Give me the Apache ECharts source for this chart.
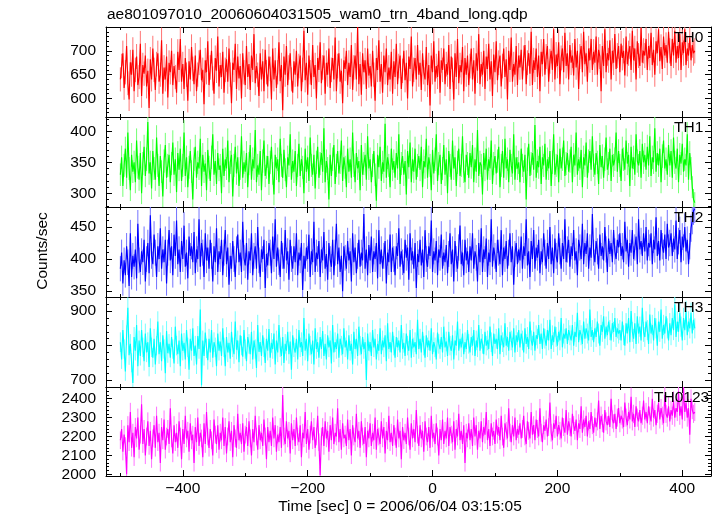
<!DOCTYPE html>
<html>
<head>
<meta charset="utf-8">
<script src="https://cdn.jsdelivr.net/npm/echarts@6/dist/echarts.min.js"></script>
<style>html,body{margin:0;padding:0;background:#fff}#c{width:717px;height:516px}</style>
</head>
<body>
<div id="c"></div>
<script>
// ---- data (2 s bins starting at -500 s) ----
const tStart = -500;
const binSec = 2;
const th0 = [
640,668,695,622,655,710,632,598,676,650,702,615,660,688,628,645,715,605,670,652,
690,625,658,580,682,640,705,660,618,672,695,635,650,722,610,665,640,688,602,675,
655,700,628,668,645,612,698,660,725,635,672,620,685,650,595,678,640,708,662,630,
690,615,650,675,702,638,660,588,680,655,720,628,665,700,642,610,685,658,730,625,
670,645,698,612,660,682,635,705,650,590,675,660,715,620,688,642,668,600,695,655,
628,710,645,672,618,690,660,735,632,668,650,605,695,640,678,615,702,655,625,688,
662,598,705,640,680,622,655,718,636,670,575,688,650,710,628,665,695,640,612,678,
650,700,625,668,690,615,660,742,638,675,608,690,655,628,712,645,670,600,685,660,
718,632,665,690,610,675,650,705,622,660,685,640,728,615,668,695,635,658,590,680,
662,700,628,675,645,712,618,665,690,640,750,630,672,608,695,655,680,620,705,648,
668,625,700,650,595,685,660,722,635,672,612,690,655,705,628,665,640,698,610,678,
645,715,630,668,690,620,658,700,638,675,600,688,662,730,625,660,685,640,712,650,
675,618,695,655,640,708,628,670,585,690,655,720,635,668,645,700,612,680,660,705,
630,672,650,712,620,688,660,598,695,645,725,632,670,655,708,615,685,650,690,628,
668,705,640,680,610,695,658,735,630,672,650,700,620,688,662,715,640,678,605,692,
655,720,638,675,690,625,668,705,645,682,598,700,660,728,635,672,650,710,628,690,
665,702,640,685,712,630,675,695,652,740,628,680,660,705,645,690,615,698,672,725,
650,688,710,635,678,700,660,745,640,692,668,718,630,685,705,655,738,668,695,640,
712,675,690,648,725,665,700,620,688,710,655,740,672,695,635,705,680,725,660,698,
675,730,650,702,688,615,710,668,745,655,695,680,722,640,700,675,735,662,690,710,
655,715,685,700,648,730,672,695,710,660,742,680,705,640,720,690,668,748,675,700,
690,725,660,710,685,738,670,702,650,720,695,745,678,708,662,730,690,712,675,740,
700,668,725,690,742,675,710,685,735,660,718,695,745,670,705,690,728,680,712,695,
700];
const th1 = [
330,358,312,345,372,325,398,340,305,362,335,350,318,385,342,322,365,300,348,375,
328,355,415,332,350,308,368,340,322,390,345,312,360,335,295,352,378,325,345,362,
318,348,382,330,355,302,365,338,372,320,345,398,328,358,310,342,368,335,290,355,
375,325,350,340,388,312,362,335,348,305,370,342,320,358,395,330,352,315,365,338,
345,300,372,328,355,340,385,318,350,362,295,345,375,332,358,312,340,392,325,350,
335,365,310,348,378,322,355,340,402,318,345,330,368,305,352,385,328,342,360,315,
350,375,332,298,362,340,355,318,388,345,325,370,338,310,358,345,395,322,352,335,
368,312,345,380,328,355,342,300,372,335,358,320,390,345,330,362,308,350,375,325,
348,365,335,405,318,352,340,290,362,328,355,378,315,345,368,332,350,385,320,358,
342,310,372,335,355,325,398,345,318,365,340,352,305,378,330,348,362,322,392,340,
355,318,345,368,330,288,362,342,375,320,350,335,412,325,358,345,310,372,338,352,
325,365,340,395,315,348,360,330,352,298,368,342,382,318,355,335,372,322,345,360,
338,375,310,352,342,388,325,358,345,305,370,332,355,395,320,348,362,315,340,378,
330,355,300,368,345,322,385,340,358,312,350,372,328,345,392,335,318,362,348,325,
365,342,378,318,355,335,402,328,350,345,298,365,338,372,322,355,340,385,315,348,
360,332,352,375,310,345,368,325,388,340,355,318,370,345,332,395,322,358,340,350,
318,372,345,335,362,290,355,380,328,348,365,338,410,325,352,342,375,315,358,345,
380,322,355,340,368,312,350,395,330,345,362,318,372,340,355,385,328,348,365,335,
352,375,318,362,345,398,330,355,340,370,310,358,345,382,325,352,368,338,392,345,
330,365,350,315,378,342,360,325,355,390,338,348,372,320,362,345,355,398,335,368,
345,320,372,355,338,385,348,362,312,375,340,358,330,395,352,345,368,325,380,350,
362,338,375,345,392,328,358,350,405,335,365,345,372,318,360,385,340,355,330,378,
345,368,325,390,350,340,372,318,362,348,380,335,355,345,395,322,365,340,310,290,
285];
const th2 = [
385,410,362,398,375,420,395,358,440,372,405,388,415,370,455,398,380,412,395,430,
365,400,425,378,468,405,392,438,410,372,420,400,448,385,415,395,430,362,410,445,
398,420,375,438,405,460,392,415,380,428,400,452,388,410,370,435,405,420,395,442,
378,415,400,462,388,425,410,372,440,398,418,385,430,405,365,420,395,448,380,412,
400,430,375,410,445,392,418,360,405,385,428,400,372,415,438,395,410,380,458,402,
390,425,368,412,398,440,375,405,420,385,450,398,372,415,400,430,355,408,390,425,
410,378,435,400,462,388,418,395,372,428,405,385,445,398,412,368,430,400,385,420,
395,440,375,410,398,425,352,405,385,418,400,438,372,412,395,458,380,410,400,428,
372,415,398,442,385,408,368,425,400,388,430,375,410,455,392,418,380,405,350,420,
402,385,428,398,412,365,440,395,418,378,405,430,388,410,398,470,385,415,375,422,
398,435,380,412,400,425,370,445,392,415,385,405,428,362,410,395,438,380,418,400,
375,420,405,448,388,412,395,378,430,402,418,368,440,398,412,385,425,355,408,395,
430,390,415,372,445,400,388,420,405,460,380,412,398,428,375,415,402,438,385,410,
395,422,378,408,440,392,415,365,428,400,385,418,452,392,410,375,430,398,412,380,
420,398,440,385,412,402,365,425,395,448,380,415,400,432,372,410,395,462,388,418,
405,380,430,410,392,445,375,418,400,428,385,410,440,395,420,360,408,425,392,415,
398,435,385,420,405,462,390,412,372,428,400,445,385,418,402,430,378,412,395,440,
410,385,425,400,450,392,418,378,432,405,395,440,412,385,425,400,462,395,415,430,
388,420,405,445,398,412,375,430,418,400,455,392,425,408,440,385,418,402,470,410,
395,428,412,385,438,405,420,398,450,415,380,432,408,425,395,445,412,400,430,418,
440,405,420,395,458,412,430,388,425,410,445,400,418,435,392,462,415,428,405,440,
412,450,398,425,418,440,392,430,415,465,405,428,398,445,420,410,438,400,455,418,
425,440,405,432,415,460,400,428,445,395,435,418,450,412,430,392,420,448,460,475,
478];
const th3 = [
810,760,845,790,725,830,910,772,805,750,692,825,785,860,740,815,770,845,795,755,
835,780,810,738,850,795,765,820,745,800,870,775,810,755,830,790,720,842,778,805,
765,825,790,748,855,800,775,815,740,835,785,808,760,845,795,730,820,785,850,770,
800,745,828,790,905,685,815,770,838,792,758,820,780,845,765,810,795,740,835,785,
812,770,850,795,740,825,780,808,762,840,795,775,870,788,815,752,830,800,768,845,
790,755,825,805,775,840,760,815,790,735,860,782,810,770,830,795,750,820,785,848,
765,808,790,835,745,815,780,860,795,770,825,750,805,785,840,775,812,730,830,795,
780,820,760,845,795,810,770,880,785,820,755,835,800,775,815,745,850,790,810,765,
825,790,842,770,805,760,830,795,815,748,860,780,810,790,835,765,820,800,775,850,
795,815,760,830,785,805,745,840,790,820,770,855,800,775,825,790,810,700,835,785,
810,770,845,795,820,760,805,785,850,775,815,795,830,755,865,790,810,780,840,800,
765,825,795,815,780,860,790,808,770,835,800,785,845,765,820,795,810,775,875,790,
820,780,840,800,765,830,795,815,785,850,775,810,795,760,838,805,790,825,780,855,
795,812,770,840,800,785,830,760,815,800,870,785,820,795,835,775,810,790,845,805,
780,825,800,845,770,815,795,860,785,820,805,775,840,800,815,790,855,810,770,835,
805,820,790,850,775,830,810,795,865,800,825,785,840,815,795,850,780,830,810,845,
795,835,815,780,850,805,825,790,870,815,800,840,785,830,820,860,805,835,790,850,
820,800,845,815,875,790,830,810,855,825,800,840,815,880,795,835,820,850,805,845,
830,815,860,800,840,825,895,810,845,830,805,870,820,850,835,815,905,825,845,810,
850,825,870,835,800,860,840,885,820,855,830,870,845,815,865,840,880,825,850,835,
845,815,870,830,800,865,835,880,810,900,840,820,865,805,885,835,855,815,910,840,
825,870,845,805,890,835,860,815,880,850,800,870,840,905,820,860,835,885,850,815,
865,830,880,845,920,825,870,840,895,855,815,880,845,900,830,870,850,895,835,875,
850];
const th0123 = [
2180,2240,2120,2210,2150,2000,2260,2170,2330,2140,2220,2090,2250,2190,2300,2130,2210,2370,2160,2240,
2100,2200,2280,2150,2230,2080,2190,2260,2140,2310,2170,2220,2060,2250,2180,2290,2130,2200,2240,2160,
2350,2190,2110,2260,2170,2220,2140,2280,2200,2080,2240,2160,2310,2190,2230,2120,2270,2180,2210,2060,
2250,2170,2300,2150,2220,2190,2090,2270,2160,2330,2200,2140,2240,2180,2100,2290,2210,2160,2260,2130,
2220,2180,2300,2150,2250,2110,2200,2280,2170,2230,2090,2260,2190,2140,2320,2180,2220,2160,2270,2120,
2210,2250,2150,2280,2190,2100,2240,2170,2310,2200,2130,2260,2180,2220,2150,2290,2200,2080,2250,2170,
2230,2150,2300,2190,2260,2120,2210,2170,2250,2140,2420,2200,2160,2280,2190,2230,2110,2270,2180,2240,
2150,2300,2200,2170,2260,2090,2220,2190,2330,2160,2240,2130,2210,2280,2180,2250,2140,2200,2310,2170,
1995,2200,2250,2150,2280,2190,2230,2120,2260,2180,2300,2160,2220,2200,2350,2170,2240,2130,2270,2190,
2210,2150,2290,2180,2240,2100,2260,2200,2170,2320,2190,2230,2140,2280,2200,2160,2250,2090,2230,2190,
2270,2150,2220,2180,2300,2130,2240,2200,2160,2280,2190,2250,2110,2230,2180,2310,2170,2220,2150,2260,
2200,2140,2290,2190,2230,2080,2250,2180,2220,2160,2300,2200,2130,2270,2190,2240,2170,2340,2210,2150,
2260,2190,2230,2120,2280,2200,2170,2250,2140,2310,2190,2220,2160,2270,2200,2100,2240,2180,2290,2160,
2230,2190,2300,2150,2250,2210,2170,2280,2130,2240,2200,2320,2180,2230,2160,2260,2060,2220,2190,2270,
2180,2240,2150,2300,2200,2260,2130,2230,2190,2280,2170,2250,2210,2330,2180,2240,2150,2270,2200,2230,
2160,2290,2210,2250,2180,2310,2200,2140,2270,2230,2190,2350,2220,2170,2260,2200,2300,2180,2240,2210,
2270,2190,2240,2310,2200,2160,2280,2230,2190,2330,2210,2260,2180,2290,2240,2200,2350,2220,2170,2260,
2230,2290,2200,2250,2380,2220,2180,2270,2240,2310,2200,2260,2230,2190,2300,2250,2220,2340,2210,2280,
2250,2200,2320,2260,2230,2290,2180,2270,2240,2360,2220,2290,2250,2310,2200,2280,2240,2330,2260,2220,
2300,2250,2280,2390,2240,2310,2270,2220,2340,2280,2260,2310,2250,2400,2290,2270,2320,2240,2300,2350,
2270,2310,2290,2250,2380,2300,2260,2330,2290,2410,2280,2320,2250,2360,2300,2280,2340,2270,2310,2390,
2290,2330,2270,2360,2310,2280,2400,2300,2340,2260,2320,2380,2290,2350,2310,2270,2420,2320,2300,2360,
2280,2340,2310,2390,2300,2350,2330,2440,2310,2360,2290,2460,2330,2380,2300,2350,2210,2400,2340,2320,
2330];

const panelNames = ['TH0','TH1','TH2','TH3','TH0123'];
const panelColors = ['#ff0000','#00ff00','#0000ff','#00ffff','#ff00ff'];
const errColors = ['#ff7373','#73ff73','#7373ff','#73ffff','#ff73ff'];
const xLabelTicks = [-400,-200,0,200,400];
const xMinorTicks = [-500,-300,-100,100,300];
const yLabelTicks = [[600,650,700],[300,350,400],[350,400,450],[700,800,900],[2000,2100,2200,2300,2400]];
const yMinorStep = [10,10,10,20,20];
const yRanges = [[561,750],[278,423],[341,481],[680,941],[1991,2462]];
const xRange = [-523,446];
const titleText = 'ae801097010_20060604031505_wam0_trn_4band_long.qdp';
const xTitle = 'Time [sec] 0 = 2006/06/04 03:15:05';
const yTitle = 'Counts/sec';

const seriesVals = [th0, th1, th2, th3, th0123];
const times = th0.map((_, i) => tStart + i * binSec);

const FONT = 'Liberation Sans, Arial, Helvetica, sans-serif';
const FS = 15.5;
const gridTop = 27, gridH = 90, gridLeft = 106, gridRight = 6;

const grids = [], xAxes = [], yAxes = [], series = [];
function minorY(k) {
  const out = [];
  const s = yMinorStep[k];
  for (let v = Math.ceil(yRanges[k][0] / s) * s; v <= yRanges[k][1]; v += s) {
    if (!yLabelTicks[k].includes(v)) out.push(v);
  }
  return out;
}
function fmtNum(v) { return v < 0 ? '\u2212' + Math.abs(v) : String(v); }

for (let k = 0; k < 5; k++) {
  grids.push({left: gridLeft, right: gridRight, top: gridTop + gridH * k, height: k === 4 ? 89 : gridH, containLabel: false, outerBoundsMode: 'none'});
  const last = k === 4;
  const xDefs = [
    ['bottom', xLabelTicks, 6, true, last],
    ['bottom', xMinorTicks, 3, false, false],
    ['top', xLabelTicks, 6, true, false],
    ['top', xMinorTicks, 3, false, false]
  ];
  xDefs.forEach(d => {
    xAxes.push({
      type: 'value', gridIndex: k, position: d[0], min: xRange[0], max: xRange[1],
      axisLine: {show: d[3], onZero: false, lineStyle: {color: '#000', width: 1}},
      axisTick: {show: true, inside: true, length: d[2], customValues: d[1], lineStyle: {color: '#000', width: 1}},
      axisLabel: d[4] ? {show: true, customValues: xLabelTicks, formatter: fmtNum, color: '#000', fontSize: FS, fontFamily: FONT, margin: 5} : {show: false},
      splitLine: {show: false}
    });
  });
  const yDefs = [
    ['left', yLabelTicks[k], 6, true, true],
    ['left', minorY(k), 3, false, false],
    ['right', yLabelTicks[k], 6, true, false],
    ['right', minorY(k), 3, false, false]
  ];
  yDefs.forEach(d => {
    yAxes.push({
      type: 'value', gridIndex: k, position: d[0], min: yRanges[k][0], max: yRanges[k][1],
      axisLine: {show: d[3], onZero: false, lineStyle: {color: '#000', width: 1}},
      axisTick: {show: true, inside: true, length: d[2], customValues: d[1], lineStyle: {color: '#000', width: 1}},
      axisLabel: d[4] ? {show: true, customValues: yLabelTicks[k], formatter: fmtNum, color: '#000', fontSize: FS, fontFamily: FONT, margin: 10} : {show: false},
      splitLine: {show: false}
    });
  });
  const data = times.map((t, i) => [t, seriesVals[k][i]]);
  const ec = errColors[k];
  // error bars: 1-sigma Poisson error of a 1 s bin, derived from each value
  series.push({
    type: 'custom', xAxisIndex: k * 4, yAxisIndex: k * 4, data: data, silent: true, clip: true, z: 1,
    renderItem: function (params, api) {
      const t = api.value(0), v = api.value(1), e = Math.sqrt(v);
      const p1 = api.coord([t, v - e]), p2 = api.coord([t, v + e]);
      return {type: 'line', shape: {x1: p1[0], y1: p1[1], x2: p2[0], y2: p2[1]}, style: {stroke: ec, lineWidth: 1}};
    }
  });
  series.push({
    type: 'line', xAxisIndex: k * 4, yAxisIndex: k * 4, data: data, showSymbol: false, silent: true,
    lineStyle: {color: panelColors[k], width: 1.15}, itemStyle: {color: panelColors[k]}, z: 2
  });
}

const labelLeft = [674, 674, 674, 674, 654];
const graphics = [
  {type: 'text', left: 107, top: 7, style: {text: titleText, fill: '#000', font: FS + 'px ' + FONT}},
  {type: 'text', x: 400, y: 507, style: {text: xTitle, fill: '#000', font: FS + 'px ' + FONT, align: 'center', verticalAlign: 'middle'}},
  {type: 'text', x: 43, y: 251, rotation: Math.PI / 2, style: {text: yTitle, fill: '#000', font: FS + 'px ' + FONT, align: 'center', verticalAlign: 'middle'}}
];
panelNames.forEach((n, k) => {
  graphics.push({type: 'text', x: labelLeft[k], y: gridTop + gridH * k + 11, z: 10,
    style: {text: n, fill: '#000', font: FS + 'px ' + FONT, align: 'left', verticalAlign: 'middle'}});
});

const chart = echarts.init(document.getElementById('c'), null, {renderer: 'canvas'});
chart.setOption({
  animation: false,
  backgroundColor: '#fff',
  grid: grids,
  xAxis: xAxes,
  yAxis: yAxes,
  series: series,
  graphic: graphics
});
</script>
</body>
</html>
